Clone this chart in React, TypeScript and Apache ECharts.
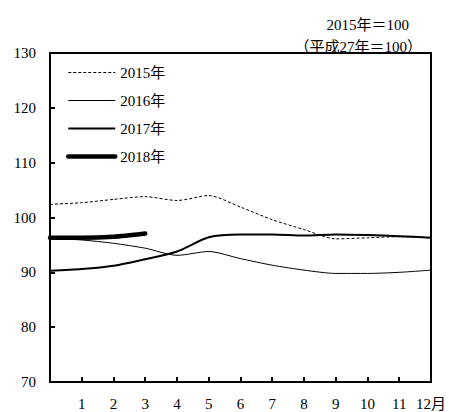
import React, { useEffect, useRef } from "react";
import * as echarts from "echarts";

const months = [0, 1, 2, 3, 4, 5, 6, 7, 8, 9, 10, 11, 12];
const s2015 = [102.4, 102.7, 103.3, 103.8, 103.1, 104.0, 101.9, 99.6, 97.8, 96.1, 96.3, 96.5, 96.3];
const s2016 = [96.2, 95.9, 95.3, 94.4, 93.1, 93.8, 92.5, 91.3, 90.4, 89.8, 89.8, 90.0, 90.4];
const s2017 = [90.3, 90.6, 91.2, 92.4, 93.8, 96.4, 96.9, 96.9, 96.7, 96.9, 96.8, 96.6, 96.3];
const s2018 = [96.3, 96.3, 96.5, 97.1];
const seriesNames = ["2015年", "2016年", "2017年", "2018年"];
const yTicks = [70, 80, 90, 100, 110, 120, 130];
const unitLine1 = "2015年＝100";
const unitLine2 = "（平成27年＝100）";

const FONT = "'Liberation Serif', 'DejaVu Serif', 'Noto Sans CJK JP', serif";

const lineStyles: any[] = [
  { color: "#000", width: 1, type: [3, 2] },
  { color: "#000", width: 1 },
  { color: "#000", width: 2 },
  { color: "#000", width: 4.5, cap: "round" },
];

function pairs(vals: number[]) {
  return vals.map((v, i) => [months[i], v]);
}

export default function App() {
  const ref = useRef<HTMLDivElement>(null);
  useEffect(() => {
    document.body.style.margin = "0";
    if (!ref.current) return;
    const chart = echarts.init(ref.current, undefined, { renderer: "svg" });
    const base = {
      type: "line",
      symbol: "none",
      showSymbol: false,
      smooth: 0.25,
      silent: true,
    };
    const allSeries = [s2015, s2016, s2017, s2018];
    chart.setOption({
      animation: false,
      textStyle: { fontFamily: FONT },
      title: [
        {
          text: unitLine1,
          right: 35,
          top: 12,
          textStyle: { fontFamily: FONT, fontSize: 15, fontWeight: "normal", color: "#000" },
        },
        {
          text: unitLine2,
          right: 22,
          top: 34,
          textStyle: { fontFamily: FONT, fontSize: 15, fontWeight: "normal", color: "#000" },
        },
      ],
      legend: {
        orient: "vertical",
        left: 66,
        top: 65,
        padding: 0,
        itemWidth: 47,
        itemHeight: 14,
        itemGap: 13,
        itemStyle: { opacity: 0 },
        textStyle: { fontFamily: FONT, fontSize: 15, color: "#000" },
        data: seriesNames.map((n, i) => ({
          name: n,
          lineStyle: { ...lineStyles[i] },
          itemStyle: { opacity: 0 },
        })),
      },
      grid: {
        left: 50,
        right: 17,
        top: 53,
        bottom: 30,
        show: true,
        borderColor: "#000",
        borderWidth: 2,
      },
      xAxis: {
        type: "value",
        min: 0,
        max: 12,
        interval: 1,
        splitLine: { show: false },
        axisLine: { lineStyle: { color: "#000", width: 2 } },
        axisTick: { inside: true, length: 5, lineStyle: { color: "#000", width: 2 } },
        axisLabel: {
          margin: 14,
          color: "#000",
          fontFamily: FONT,
          fontSize: 15,
          formatter: (v: number) => (v === 0 ? "" : v === 12 ? "12月" : String(v)),
        },
      },
      yAxis: {
        type: "value",
        min: yTicks[0],
        max: yTicks[yTicks.length - 1],
        interval: 10,
        splitLine: { show: false },
        axisLine: { show: true, lineStyle: { color: "#000", width: 2 } },
        axisTick: { show: true, inside: true, length: 5, lineStyle: { color: "#000", width: 2 } },
        axisLabel: { margin: 14, color: "#000", fontFamily: FONT, fontSize: 15 },
      },
      series: allSeries.map((vals, i) => ({
        ...base,
        name: seriesNames[i],
        data: pairs(vals),
        lineStyle: lineStyles[i],
        itemStyle: { color: "#000" },
      })),
    });
    return () => chart.dispose();
  }, []);
  return <div ref={ref} style={{ width: 449, height: 412 }} />;
}
